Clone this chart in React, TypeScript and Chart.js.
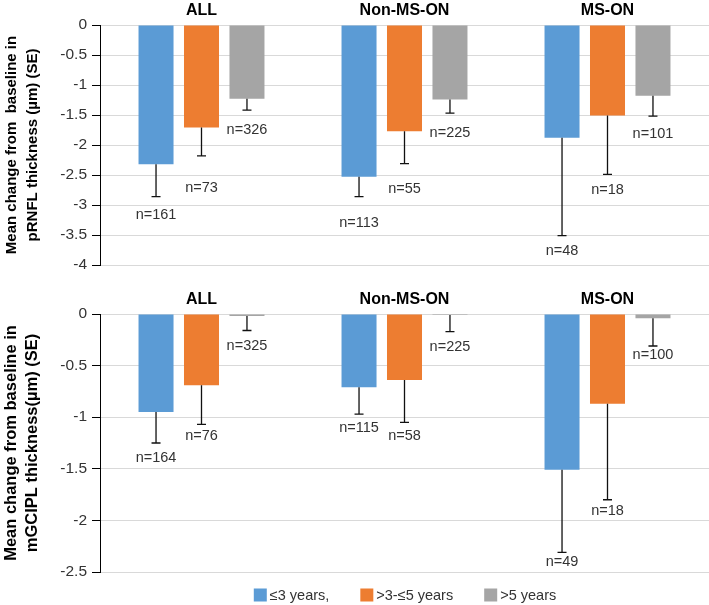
import React, { useEffect, useRef } from 'react';
import { Chart, registerables } from 'chart.js';

Chart.register(...registerables);

// ---- Data ----
const groups = ['ALL', 'Non-MS-ON', 'MS-ON'];
const seriesNames = ['≤3 years,', '>3-≤5 years', '>5 years'];

// pRNFL (top panel): mean change, SE, n
const rnflLe3 = [-2.32, -2.53, -1.88];
const rnfl3to5 = [-1.71, -1.77, -1.51];
const rnflGt5 = [-1.23, -1.24, -1.18];
const rnflSeLe3 = [0.54, 0.33, 1.63];
const rnflSe3to5 = [0.47, 0.54, 0.98];
const rnflSeGt5 = [0.19, 0.23, 0.34];
const rnflNLe3 = [161, 113, 48];
const rnflN3to5 = [73, 55, 18];
const rnflNGt5 = [326, 225, 101];

// mGCIPL (bottom panel): mean change, SE, n
const gciplLe3 = [-0.95, -0.71, -1.51];
const gcipl3to5 = [-0.69, -0.64, -0.87];
const gciplGt5 = [-0.02, -0.01, -0.04];
const gciplSeLe3 = [0.3, 0.26, 0.8];
const gciplSe3to5 = [0.38, 0.41, 0.93];
const gciplSeGt5 = [0.14, 0.16, 0.27];
const gciplNLe3 = [164, 115, 49];
const gciplN3to5 = [76, 58, 18];
const gciplNGt5 = [325, 225, 100];

// ---- Styles ----
const COLORS = ['#5B9BD5', '#ED7D31', '#A5A5A5'];
const FONT = "'Liberation Sans', Arial, sans-serif";
// vertical nudges (px) for n= labels below the error-bar ends, per series/group
const rnflLabelNudge = [[18, 26, 15], [32, 25, 16], [20, 20, 18]];
const gciplLabelNudge = [[15, 14, 10], [12, 14, 11], [15, 15, 9]];

type PanelCfg = {
  means: number[][];
  se: number[][];
  ns: number[][];
  nudge: number[][];
  min: number;
  max: number;
  title: string[];
  titleSize: number;
  titleLine: number;
  titlePad: number;
  padTop: number;
  padBottom: number;
  legend: boolean;
  width: number;
  height: number;
};

const makePlugin = (cfg: PanelCfg) => ({
  id: 'panelExtras',
  afterDatasetsDraw(chart: any) {
    const ctx = chart.ctx;
    const y = chart.scales.y;
    ctx.save();
    chart.data.datasets.forEach((ds: any, i: number) => {
      const meta = chart.getDatasetMeta(i);
      meta.data.forEach((bar: any, j: number) => {
        const v = cfg.means[i][j];
        const end = v - cfg.se[i][j];
        const y0 = y.getPixelForValue(v);
        const y1 = y.getPixelForValue(end);
        const x = bar.x;
        ctx.strokeStyle = '#111';
        ctx.lineWidth = 1.3;
        ctx.beginPath();
        ctx.moveTo(x, y0);
        ctx.lineTo(x, y1);
        ctx.moveTo(x - 4.5, y1);
        ctx.lineTo(x + 4.5, y1);
        ctx.stroke();
        ctx.fillStyle = '#333';
        ctx.font = `14.5px ${FONT}`;
        ctx.textAlign = 'center';
        ctx.textBaseline = 'middle';
        ctx.fillText(`n=${cfg.ns[i][j]}`, x, y1 + cfg.nudge[i][j]);
      });
    });
    ctx.restore();
  },
  afterDraw(chart: any) {
    const ctx = chart.ctx;
    const xs = chart.scales.x;
    const area = chart.chartArea;
    ctx.save();
    ctx.fillStyle = '#000';
    ctx.font = `bold 16px ${FONT}`;
    ctx.textAlign = 'center';
    ctx.textBaseline = 'middle';
    groups.forEach((g, j) => {
      ctx.fillText(g, xs.getPixelForValue(j), area.top - 14);
    });
    if (cfg.legend) {
      ctx.font = `14.5px ${FONT}`;
      const box = 13;
      const gapText = 3;
      const gapItem = 31;
      const widths = seriesNames.map((s) => ctx.measureText(s).width);
      const total = widths.reduce((a, w) => a + box + gapText + w, 0) + gapItem * (seriesNames.length - 1);
      let x = 405 - total / 2;
      const ly = chart.height - 10;
      ctx.textAlign = 'left';
      seriesNames.forEach((s, i) => {
        ctx.fillStyle = COLORS[i];
        ctx.fillRect(x, ly - box / 2, box, box);
        ctx.fillStyle = '#333';
        ctx.fillText(s, x + box + gapText, ly + 1);
        x += box + gapText + widths[i] + gapItem;
      });
    }
    ctx.restore();
  },
});

function Panel({ cfg }: { cfg: PanelCfg }) {
  const ref = useRef<HTMLCanvasElement>(null);
  useEffect(() => {
    if (!ref.current) return;
    const chart = new Chart(ref.current, {
      type: 'bar',
      data: {
        labels: groups,
        datasets: cfg.means.map((m, i) => ({
          label: seriesNames[i],
          data: m,
          backgroundColor: COLORS[i],
          borderWidth: 0,
          categoryPercentage: 0.672,
          barPercentage: 0.77,
        })),
      },
      options: {
        animation: false,
        responsive: false,
        layout: { padding: { top: cfg.padTop, bottom: cfg.padBottom, left: 0, right: 0 } },
        plugins: { legend: { display: false }, tooltip: { enabled: false } },
        scales: {
          x: { display: false },
          y: {
            min: cfg.min,
            max: cfg.max,
            afterFit: (s: any) => {
              s.width = 100;
            },
            ticks: {
              stepSize: 0.5,
              color: '#333',
              padding: 5,
              font: { size: 15.5, family: FONT },
              callback: (v: any) => String(v),
            },
            grid: { color: '#d9d9d9', tickColor: '#000', tickLength: 8, lineWidth: 1 },
            border: { color: '#000', width: 1 },
            title: {
              display: true,
              text: cfg.title,
              color: '#000',
              padding: { top: cfg.titlePad, bottom: 0 },
              font: { size: cfg.titleSize, weight: 'bold', family: FONT, lineHeight: cfg.titleLine },
            },
          },
        },
      },
      plugins: [makePlugin(cfg)],
    } as any);
    return () => chart.destroy();
  }, [cfg]);
  return <canvas ref={ref} width={cfg.width} height={cfg.height} style={{ display: 'block' }} />;
}

const topCfg: PanelCfg = {
  means: [rnflLe3, rnfl3to5, rnflGt5],
  se: [rnflSeLe3, rnflSe3to5, rnflSeGt5],
  ns: [rnflNLe3, rnflN3to5, rnflNGt5],
  nudge: rnflLabelNudge,
  min: -4,
  max: 0,
  title: ['Mean change from  baseline in', 'pRNFL thickness (µm) (SE)'],
  titleSize: 15,
  titleLine: 1.4,
  titlePad: 1.5,
  padTop: 25,
  padBottom: 20,
  legend: false,
  width: 709,
  height: 285,
};

const bottomCfg: PanelCfg = {
  means: [gciplLe3, gcipl3to5, gciplGt5],
  se: [gciplSeLe3, gciplSe3to5, gciplSeGt5],
  ns: [gciplNLe3, gciplN3to5, gciplNGt5],
  nudge: gciplLabelNudge,
  min: -2.5,
  max: 0,
  title: ['Mean change from baseline in', 'mGCIPL thickness(µm) (SE)'],
  titleSize: 16.5,
  titleLine: 1.33,
  titlePad: 0,
  padTop: 34,
  padBottom: 33,
  legend: true,
  width: 709,
  height: 325,
};

export default function App() {
  return (
    <div style={{ position: 'absolute', left: 0, top: 0, width: 709, height: 605, background: '#fff' }}>
      <div style={{ position: 'absolute', left: 0, top: 0 }}>
        <Panel cfg={topCfg} />
      </div>
      <div style={{ position: 'absolute', left: 0, top: 280 }}>
        <Panel cfg={bottomCfg} />
      </div>
    </div>
  );
}
